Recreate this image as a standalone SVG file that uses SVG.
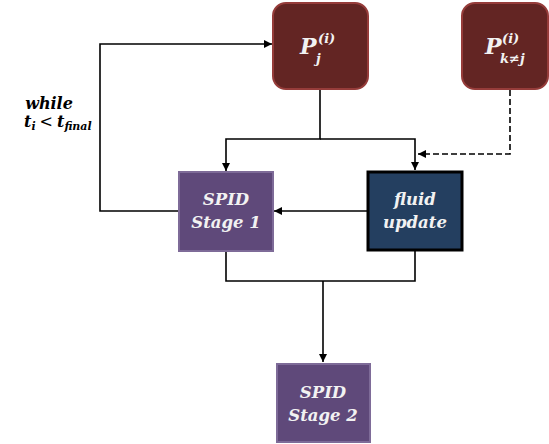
<svg xmlns="http://www.w3.org/2000/svg" width="549" height="444" viewBox="0 0 549 444">
<style>
.t{font-family:"DejaVu Serif","Liberation Serif",serif;font-weight:bold;font-style:italic;}
.w{fill:#f2f2f2;}
.k{fill:#000;}
.ln{fill:none;stroke:#000;stroke-width:1.6;}
.dash{stroke-dasharray:6,3;}
.pbox{fill:#632523;stroke:#963c3a;stroke-width:2;}
.spid{fill:#5f497a;stroke:#7e6b98;stroke-width:2;}
.fluid{fill:#243f60;stroke:#000;stroke-width:3;}
</style>
<defs>
<marker id="ah" viewBox="0 0 10 10" refX="10" refY="5" markerWidth="8" markerHeight="8" markerUnits="userSpaceOnUse" orient="auto">
<path d="M0,0 L10,5 L0,10 z" fill="#000"/>
</marker>
</defs>
<g id="connectors">
<path class="ln" d="M320,90 V139 H226 V171" marker-end="url(#ah)"/>
<path class="ln" d="M320,139 H415 V170" marker-end="url(#ah)"/>
<path class="ln dash" d="M510,90 V154 H418" marker-end="url(#ah)"/>
<path class="ln" d="M367,211 H274" marker-end="url(#ah)"/>
<path class="ln" d="M179,211 H100 V44 H272" marker-end="url(#ah)"/>
<path class="ln" d="M226,252 V281 H415 V251"/>
<path class="ln" d="M323,281 V362" marker-end="url(#ah)"/>
</g>
<g id="label-while">
<text class="t k" x="49" y="109" font-size="16" text-anchor="middle">while</text>
<text class="t k" x="24" y="127" font-size="16">t<tspan font-size="11" dy="3">i</tspan><tspan dy="-3" font-weight="normal" font-style="normal" dx="4">&lt;</tspan><tspan dx="4">t</tspan><tspan font-size="11" dy="3">final</tspan></text>
</g>
<g id="node-pj">
<rect class="pbox" x="273" y="3" width="95" height="86" rx="13"/>
<text class="t w" x="300" y="54" font-size="22">P</text>
<text class="t w" x="318" y="43" font-size="13">(i)</text>
<text class="t w" x="316" y="63" font-size="13">j</text>
</g>
<g id="node-pk">
<rect class="pbox" x="462" y="3" width="86" height="86" rx="13"/>
<text class="t w" x="485" y="54" font-size="22">P</text>
<text class="t w" x="502" y="43" font-size="13">(i)</text>
<text class="t w" x="500" y="63" font-size="13">k≠j</text>
</g>
<g id="node-spid1">
<rect class="spid" x="179" y="172" width="94" height="79"/>
<text class="t w" x="226" y="205" font-size="16.5" text-anchor="middle">SPID</text>
<text class="t w" x="226" y="228" font-size="16.5" text-anchor="middle">Stage 1</text>
</g>
<g id="node-fluid">
<rect class="fluid" x="368" y="172" width="94" height="78"/>
<text class="t w" x="415" y="205" font-size="16.5" text-anchor="middle">fluid</text>
<text class="t w" x="415" y="228" font-size="16.5" text-anchor="middle">update</text>
</g>
<g id="node-spid2">
<rect class="spid" x="277" y="364" width="93" height="78"/>
<text class="t w" x="323" y="398" font-size="16.5" text-anchor="middle">SPID</text>
<text class="t w" x="323" y="421" font-size="16.5" text-anchor="middle">Stage 2</text>
</g>
</svg>
